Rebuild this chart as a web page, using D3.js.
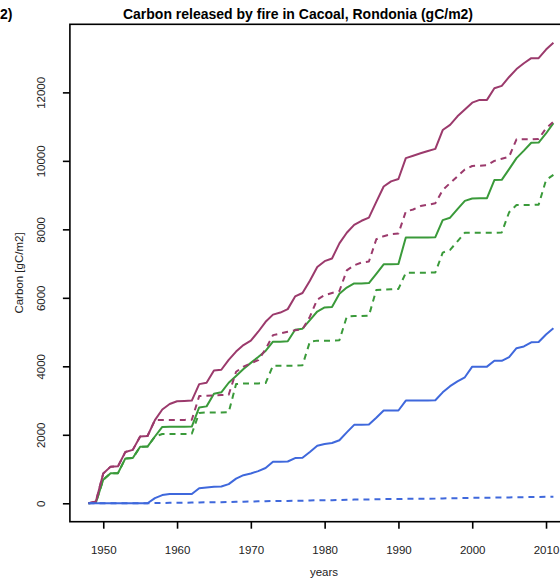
<!DOCTYPE html>
<html>
<head>
<meta charset="utf-8">
<script src="https://cdn.jsdelivr.net/npm/d3@7"></script>
<style>
  body { margin: 0; background: #fff; }
  svg { display: block; font-family: "Liberation Sans", Arial, sans-serif; }
</style>
</head>
<body>
<div id="chart"></div>
<script>
// years 1948..2011
var years = d3.range(1948, 2012);

var redSolid = [0, 50, 870, 1070, 1080, 1500, 1560, 1950, 1965, 2430,
  2740, 2900, 2980, 2990, 3000, 3480, 3520, 3880, 3900, 4190,
  4430, 4620, 4750, 5010, 5300, 5510, 5570, 5670, 6040, 6140,
  6500, 6900, 7070, 7150, 7590, 7900, 8130, 8250, 8340, 8800,
  9250, 9400, 9470, 10080, 10150, 10220, 10290, 10350, 10900, 11050,
  11300, 11500, 11700, 11780, 11780, 12120, 12190, 12450, 12680, 12850,
  13000, 13000, 13250, 13450];

var redDashed = [0, 50, 870, 1070, 1080, 1500, 1560, 1950, 1965, 2430,
  2430, 2430, 2430, 2435, 2440, 3130, 3140, 3150, 3160, 3170,
  3840, 3990, 4090, 4180, 4500, 4910, 4960, 5010, 5050, 5080,
  5450, 5950, 6080, 6140, 6200, 6800, 6950, 7030, 7060, 7710,
  7800, 7860, 7880, 8520, 8580, 8680, 8720, 8760, 9150, 9350,
  9550, 9750, 9850, 9860, 9870, 10000, 10060, 10120, 10630, 10630,
  10630, 10640, 10950, 11140];

var greenSolid = [0, 20, 690, 880, 880, 1310, 1320, 1650, 1655, 1950,
  2230, 2235, 2235, 2235, 2240, 2800, 2830, 3200, 3240, 3520,
  3720, 3920, 4100, 4270, 4450, 4720, 4720, 4730, 5070, 5100,
  5350, 5600, 5720, 5730, 6120, 6300, 6420, 6420, 6430, 6700,
  6980, 6980, 6990, 7760, 7760, 7760, 7760, 7770, 8270, 8340,
  8590, 8830, 8900, 8905, 8910, 9440, 9445, 9760, 10080, 10300,
  10530, 10535, 10800, 11100];

var greenDashed = [0, 20, 690, 880, 880, 1310, 1320, 1650, 1655, 1950,
  2025, 2025, 2025, 2025, 2030, 2640, 2650, 2650, 2650, 2660,
  3480, 3500, 3500, 3500, 3510, 4020, 4020, 4020, 4020, 4030,
  4720, 4750, 4750, 4750, 4760, 5450, 5470, 5470, 5480, 6230,
  6240, 6250, 6260, 6730, 6735, 6735, 6735, 6740, 7320, 7400,
  7650, 7900, 7900, 7900, 7900, 7900, 7910, 8500, 8710, 8710,
  8710, 8720, 9440, 9590];

var blueSolid = [0, 0, 0, 0, 0, 0, 0, 0, 0, 150,
  240, 270, 270, 270, 270, 440, 460, 480, 490, 560,
  720, 820, 870, 940, 1030, 1210, 1215, 1220, 1320, 1330,
  1500, 1680, 1730, 1760, 1840, 2070, 2290, 2290, 2300, 2500,
  2710, 2710, 2710, 3000, 3000, 3000, 3000, 3010, 3240, 3420,
  3560, 3680, 3990, 3990, 3990, 4160, 4160, 4270, 4530, 4580,
  4700, 4710, 4930, 5110];

var blueDashed = [0, 0, 0, 0, 0, 0, 0, 0, 0, 5,
  10, 12, 15, 18, 20, 25, 28, 30, 32, 35,
  42, 48, 52, 56, 60, 66, 68, 70, 74, 76,
  82, 88, 90, 92, 96, 102, 108, 110, 111, 116,
  122, 123, 124, 132, 133, 134, 135, 136, 142, 146,
  150, 154, 160, 161, 162, 166, 167, 170, 176, 178,
  181, 182, 188, 192];

var xTicks = [1950, 1960, 1970, 1980, 1990, 2000, 2010];
var yTicks = [0, 2000, 4000, 6000, 8000, 10000, 12000];

var series = [
  {values: greenDashed, color: "#3a9a3a", dash: "6,5"},
  {values: greenSolid, color: "#3a9a3a", dash: null},
  {values: redDashed, color: "#9b3a6c", dash: "6,5"},
  {values: redSolid, color: "#9b3a6c", dash: null},
  {values: blueDashed, color: "#3f68dc", dash: "6,5"},
  {values: blueSolid, color: "#3f68dc", dash: null}
];

var width = 560, height = 581;
// plot box (note: "top" is reserved on window, so use plot* names)
var plotL = 69.9, plotR = 572, plotT = 24.3, plotB = 521.7;

var svg = d3.select("#chart").append("svg")
  .attr("width", width)
  .attr("height", height);

// R style 4% padding on both axes
var xPad = (d3.max(years) - d3.min(years)) * 0.04;
var x = d3.scaleLinear()
  .domain([d3.min(years) - xPad, d3.max(years) + xPad])
  .range([plotL, plotR]);

var yMax = d3.max(series, function (s) { return d3.max(s.values); });
var yPad = yMax * 0.04;
var y = d3.scaleLinear()
  .domain([-yPad, yMax + yPad])
  .range([plotB, plotT]);

var line = d3.line()
  .x(function (d, i) { return x(years[i]); })
  .y(function (d) { return y(d); });

svg.append("g").selectAll("path")
  .data(series)
  .enter()
  .append("path")
  .attr("d", function (s) { return line(s.values); })
  .attr("fill", "none")
  .attr("stroke", function (s) { return s.color; })
  .attr("stroke-width", 2)
  .attr("stroke-dasharray", function (s) { return s.dash; })
  .attr("stroke-linejoin", "round");

// box
svg.append("rect")
  .attr("x", plotL)
  .attr("y", plotT)
  .attr("width", plotR - plotL)
  .attr("height", plotB - plotT)
  .attr("fill", "none")
  .attr("stroke", "#000")
  .attr("stroke-width", 1.6);

// x axis
var xAxis = svg.append("g")
  .attr("transform", "translate(0," + plotB + ")")
  .call(d3.axisBottom(x).tickValues(xTicks).tickFormat(d3.format("d")).tickSize(7).tickPadding(17));
xAxis.select(".domain").remove();
xAxis.selectAll("line").attr("stroke-width", 1.6);
xAxis.selectAll("text").attr("font-size", "11.5px").attr("fill", "#222")
  .attr("font-family", "Liberation Sans, Arial, sans-serif");

// y axis, labels rotated like R
var yAxis = svg.append("g")
  .attr("transform", "translate(" + plotL + ",0)")
  .call(d3.axisLeft(y).tickValues(yTicks).tickFormat(d3.format("d")).tickSize(7));
yAxis.select(".domain").remove();
yAxis.selectAll("line").attr("stroke-width", 1.6);
yAxis.selectAll("text")
  .attr("font-size", "11.5px").attr("fill", "#222")
  .attr("font-family", "Liberation Sans, Arial, sans-serif")
  .attr("text-anchor", "middle")
  .attr("x", null)
  .attr("transform", "translate(-29,0) rotate(-90)")
  .attr("dy", "0.35em");

// titles
svg.append("text")
  .attr("x", 298)
  .attr("y", 19)
  .attr("text-anchor", "middle")
  .attr("font-size", "14px")
  .attr("font-weight", "bold")
  .text("Carbon released by fire in Cacoal, Rondonia (gC/m2)");

// tail of the neighbouring panel's title
svg.append("text")
  .attr("x", 0)
  .attr("y", 19)
  .attr("font-size", "14px")
  .attr("font-weight", "bold")
  .text("2)");

svg.append("text")
  .attr("x", 324)
  .attr("y", 576)
  .attr("text-anchor", "middle")
  .attr("font-size", "11.5px")
  .attr("fill", "#222")
  .text("years");

svg.append("text")
  .attr("transform", "translate(23," + ((plotT + plotB) / 2) + ") rotate(-90)")
  .attr("text-anchor", "middle")
  .attr("font-size", "11.5px")
  .attr("fill", "#222")
  .text("Carbon [gC/m2]");
</script>
</body>
</html>
